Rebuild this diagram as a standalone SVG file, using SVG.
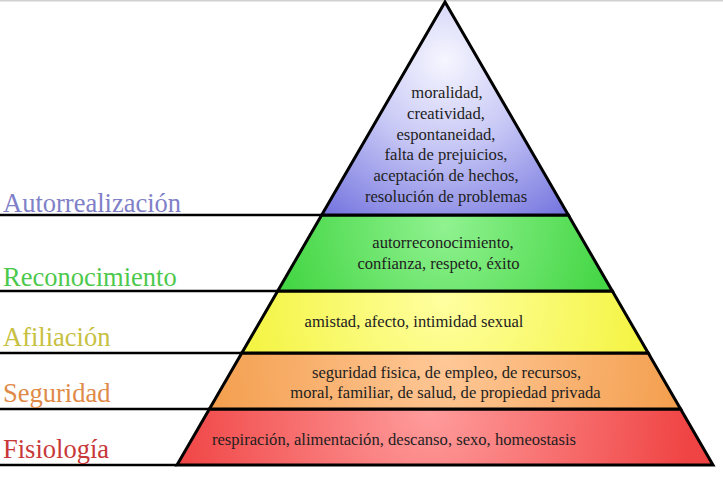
<svg xmlns="http://www.w3.org/2000/svg" width="723" height="477" viewBox="0 0 723 477">
<style>
.band{stroke:#000;stroke-width:3;stroke-linejoin:miter}
.t{font-family:'Liberation Serif','DejaVu Serif',serif;font-size:16.6px;fill:#1e1e1e;text-anchor:middle}
.lbl{font-family:'Liberation Serif','DejaVu Serif',serif;font-size:26.5px}
.guide{stroke:#000;stroke-width:2.5}
</style>
<defs>
<radialGradient id="gTop" gradientUnits="userSpaceOnUse" cx="445" cy="60" r="190">
<stop offset="0" stop-color="#f6f6ff"/><stop offset="0.45" stop-color="#c8c8f6"/><stop offset="1" stop-color="#7878e0"/>
</radialGradient>
<radialGradient id="gGreen" gradientUnits="userSpaceOnUse" cx="445" cy="225" r="170">
<stop offset="0" stop-color="#90f290"/><stop offset="1" stop-color="#44d644"/>
</radialGradient>
<radialGradient id="gYellow" gradientUnits="userSpaceOnUse" cx="445" cy="300" r="200">
<stop offset="0" stop-color="#ffffa0"/><stop offset="1" stop-color="#f4f444"/>
</radialGradient>
<radialGradient id="gOrange" gradientUnits="userSpaceOnUse" cx="445" cy="360" r="230">
<stop offset="0" stop-color="#ffc898"/><stop offset="1" stop-color="#f4a050"/>
</radialGradient>
<radialGradient id="gRed" gradientUnits="userSpaceOnUse" cx="430" cy="412" r="260">
<stop offset="0" stop-color="#ff9c9c"/><stop offset="1" stop-color="#f04444"/>
</radialGradient>
</defs>
<rect x="0" y="0" width="723" height="477" fill="#fff"/>
<rect x="0" y="0" width="723" height="1.5" fill="#d0d0d0"/>

<g id="connectors">
<line class="guide" x1="0" y1="215" x2="322" y2="215"/>
<line class="guide" x1="0" y1="291" x2="278" y2="291"/>
<line class="guide" x1="0" y1="353" x2="242" y2="353"/>
<line class="guide" x1="0" y1="409" x2="210" y2="409"/>
<line class="guide" x1="0" y1="465" x2="177" y2="465"/>
</g>

<g id="fisiologia">
<polygon class="band" fill="url(#gRed)" points="209.4,409 680.6,409 713,465 177,465"/>
<text class="t" x="394" y="445" font-family="Liberation Serif, serif">respiración, alimentación, descanso, sexo, homeostasis</text>
<text class="lbl" x="3" y="458" fill="#c83838" font-family="Liberation Serif, serif">Fisiología</text>
</g>

<g id="seguridad">
<polygon class="band" fill="url(#gOrange)" points="241.8,353 648.2,353 680.6,409 209.4,409"/>
<text class="t" x="446.5" y="378" font-family="Liberation Serif, serif">seguridad fisica, de empleo, de recursos,</text>
<text class="t" x="445.5" y="398" font-family="Liberation Serif, serif">moral, familiar, de salud, de propiedad privada</text>
<text class="lbl" x="3" y="402" fill="#e08a48" font-family="Liberation Serif, serif">Seguridad</text>
</g>

<g id="afiliacion">
<polygon class="band" fill="url(#gYellow)" points="277.7,291 612.3,291 648.2,353 241.8,353"/>
<text class="t" x="414" y="327" font-family="Liberation Serif, serif">amistad, afecto, intimidad sexual</text>
<text class="lbl" x="3" y="346" fill="#c8c040" font-family="Liberation Serif, serif">Afiliación</text>
</g>

<g id="reconocimiento">
<polygon class="band" fill="url(#gGreen)" points="321.7,215 568.3,215 612.3,291 277.7,291"/>
<text class="t" x="443" y="248" font-family="Liberation Serif, serif">autorreconocimiento,</text>
<text class="t" x="438.5" y="269" font-family="Liberation Serif, serif">confianza, respeto, éxito</text>
<text class="lbl" x="3" y="286" fill="#4cc84c" font-family="Liberation Serif, serif">Reconocimiento</text>
</g>

<g id="autorrealizacion">
<polygon class="band" fill="url(#gTop)" points="445,2 568.3,215 321.7,215"/>
<text class="t" x="447" y="98" font-family="Liberation Serif, serif">moralidad,</text>
<text class="t" x="446" y="119" font-family="Liberation Serif, serif">creatividad,</text>
<text class="t" x="446" y="140" font-family="Liberation Serif, serif">espontaneidad,</text>
<text class="t" x="446" y="160" font-family="Liberation Serif, serif">falta de prejuicios,</text>
<text class="t" x="446" y="181" font-family="Liberation Serif, serif">aceptación de hechos,</text>
<text class="t" x="446" y="202" font-family="Liberation Serif, serif">resolución de problemas</text>
<text class="lbl" x="3" y="212" fill="#8080c8" font-family="Liberation Serif, serif">Autorrealización</text>
</g>
</svg>
